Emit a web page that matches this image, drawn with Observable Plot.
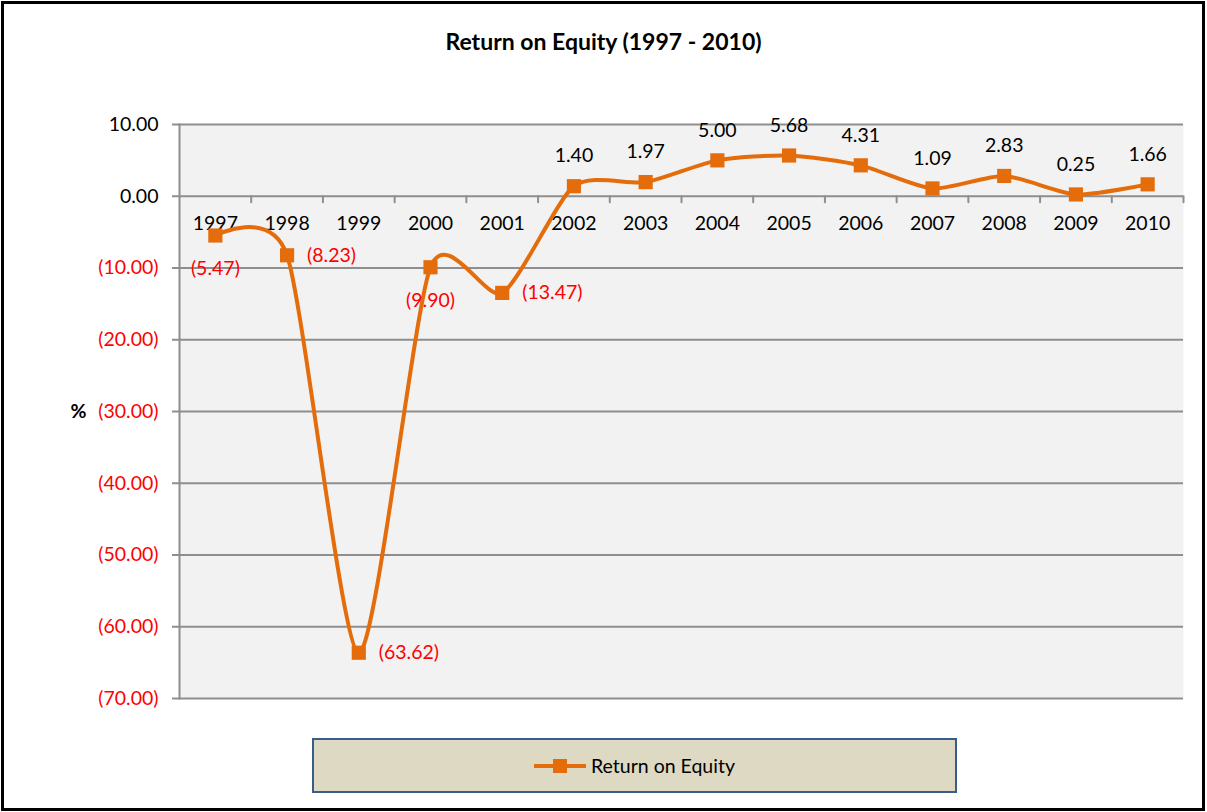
<!DOCTYPE html>
<html>
<head>
<meta charset="utf-8">
<script src="https://cdn.jsdelivr.net/npm/d3@7"></script>
<script src="https://cdn.jsdelivr.net/npm/@observablehq/plot@0.6"></script>
<style>
  html, body { margin: 0; padding: 0; background: #fff; }
  body { width: 1207px; height: 812px; position: relative; overflow: hidden; font-family: Lato, "Open Sans", sans-serif; }
  #border { position: absolute; left: 1px; top: 1px; width: 1204px; height: 810px; box-sizing: border-box; border: 3px solid #000; }
  #title { position: absolute; left: 0; top: 25px; width: 1207px; text-align: center; font-weight: bold; font-size: 23px; color: #000; line-height: 32px; }
  #chart { position: absolute; left: 0; top: 80px; }
  #legend { position: absolute; left: 312px; top: 738px; width: 645px; height: 55px; box-sizing: border-box; background: #ddd9c3; border: 2px solid #385d8a; display: flex; align-items: center; justify-content: center; font-size: 19.5px; color: #000; }
  #legend svg { margin-right: 5px; }
</style>
</head>
<body>
<div id="border"></div>
<div id="title">Return on Equity (1997 - 2010)</div>
<div id="chart"></div>
<div id="legend"></div>
<script>
// ---- data ----
const years = ["1997","1998","1999","2000","2001","2002","2003","2004","2005","2006","2007","2008","2009","2010"];
const roe = [-5.47, -8.23, -63.62, -9.90, -13.47, 1.40, 1.97, 5.00, 5.68, 4.31, 1.09, 2.83, 0.25, 1.66];
const labelPlacement = ["below","right","right","below","right","above","above","above","above","above","above","above","above","above"];
const yTicks = [10, 0, -10, -20, -30, -40, -50, -60, -70];
const seriesName = "Return on Equity";

// ---- styles ----
const ORANGE = "#e46c0a";
const GRID = "#8e8e8e";
const RED = "#ff0000";
const FS = 19.5;
const fmt = d => d < 0 ? `(${(-d).toFixed(2)})` : d.toFixed(2);

const data = years.map((year, i) => ({year, i, x: i + 0.5, value: roe[i], place: labelPlacement[i]}));
const bounds = d3.range(1, years.length + 1);

const tickShape = {draw(context, l) { context.moveTo(0, 0); context.lineTo(0, -l); }};

const chart = Plot.plot({
  width: 1207,
  height: 650,
  marginLeft: 179,
  marginRight: 24,
  marginTop: 44,
  marginBottom: 32,
  style: {fontFamily: "Lato, 'Open Sans', sans-serif", fontSize: FS + "px", background: "transparent", overflow: "visible"},
  x: {type: "linear", domain: [0, years.length], axis: null},
  y: {domain: [-70, 10], axis: null},
  marks: [
    Plot.frame({fill: "#f2f2f2", stroke: null}),
    Plot.ruleY(yTicks, {stroke: GRID, strokeWidth: 2}),
    Plot.frame({anchor: "left", stroke: GRID, strokeWidth: 2}),
    Plot.axisY(yTicks.filter(d => d >= 0), {tickSize: 7, tickPadding: 14, tickFormat: fmt, stroke: GRID, strokeWidth: 2, fill: "#000", fontSize: FS, label: null}),
    Plot.axisY(yTicks.filter(d => d < 0), {tickSize: 7, tickPadding: 14, tickFormat: fmt, stroke: GRID, strokeWidth: 2, fill: RED, fontSize: FS, label: null}),
    Plot.vector(bounds, {x: d => d, y: () => 0, length: 6, rotate: 180, anchor: "start", shape: tickShape, stroke: GRID, strokeWidth: 2}),
    Plot.text(data, {x: "x", y: () => 0, dy: 27, text: "year", fill: "#000", fontSize: FS}),
    Plot.text(["%"], {frameAnchor: "left", dx: -101, textAnchor: "middle", text: d => d, fontWeight: "bold", fontSize: FS, fill: "#000"}),
    Plot.line(data, {x: "x", y: "value", curve: "cardinal", tension: 0.3, stroke: ORANGE, strokeWidth: 4}),
    Plot.dot(data, {x: "x", y: "value", symbol: "square", r: 8, fill: ORANGE, stroke: null}),
    Plot.text(data.filter(d => d.place === "above"), {x: "x", y: "value", text: d => fmt(d.value), dy: -30, fill: "#000", fontSize: FS}),
    Plot.text(data.filter(d => d.place === "right"), {x: "x", y: "value", text: d => fmt(d.value), dx: 20, textAnchor: "start", fill: d => d.value < 0 ? RED : "#000", fontSize: FS}),
    Plot.text(data.filter(d => d.place === "below"), {x: "x", y: "value", text: d => fmt(d.value), dy: 33, fill: RED, fontSize: FS})
  ]
});
document.getElementById("chart").appendChild(chart);

// legend
const leg = document.getElementById("legend");
const sym = d3.create("svg").attr("width", 52).attr("height", 20);
sym.append("line").attr("x1", 0).attr("x2", 52).attr("y1", 10).attr("y2", 10).attr("stroke", ORANGE).attr("stroke-width", 4);
sym.append("rect").attr("x", 19).attr("y", 3).attr("width", 14).attr("height", 14).attr("fill", ORANGE);
leg.appendChild(sym.node());
const span = document.createElement("span");
span.textContent = seriesName;
leg.appendChild(span);
</script>
</body>
</html>
